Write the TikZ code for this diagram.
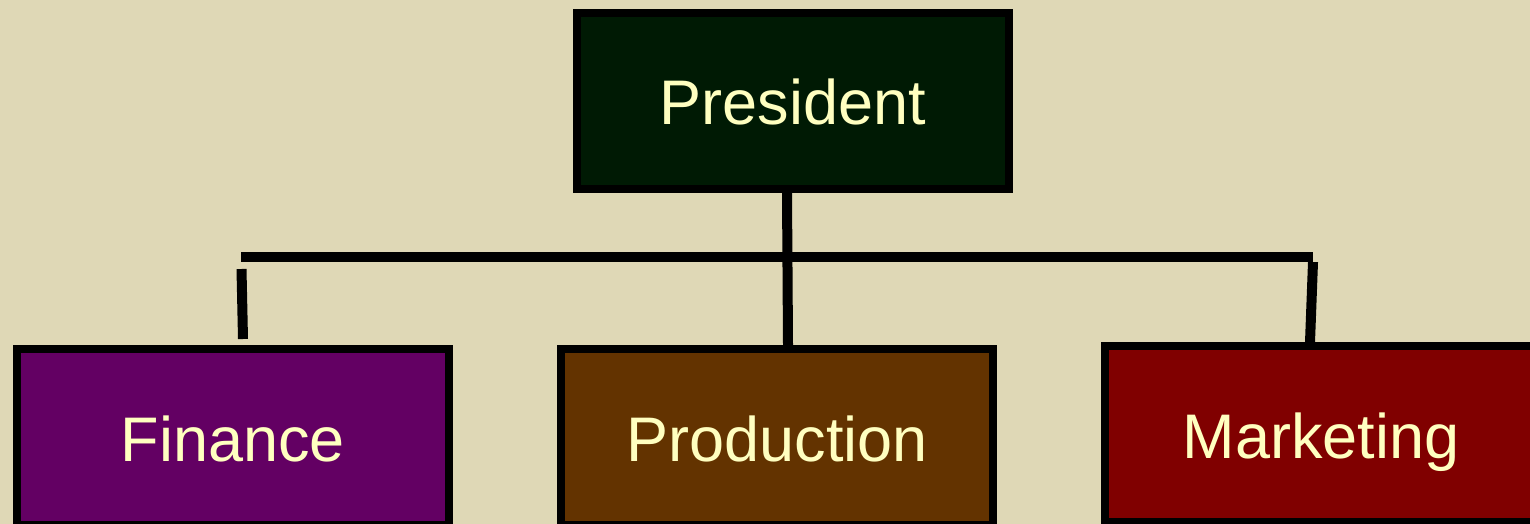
\documentclass[tikz,border=0pt]{standalone}
\usepackage{fontspec}
\setmainfont{Liberation Sans}
\usepackage{tikz}
\usetikzlibrary{positioning}

\definecolor{sfondo}{RGB}{223,216,182}
\definecolor{testo}{RGB}{255,255,192}
\definecolor{verde}{RGB}{0,26,4}
\definecolor{viola}{RGB}{99,0,99}
\definecolor{marrone}{RGB}{99,51,0}
\definecolor{rosso}{RGB}{128,0,0}

\tikzset{
    ufficio/.style={draw=black, line width=4pt, minimum width=216pt, minimum height=88pt,
        text=testo, font=\fontsize{31.5}{37}\selectfont, inner sep=0pt,
        text height=24pt, text depth=0pt},
    linea/.style={draw=black, line width=5pt}
}

\begin{document}
\begin{tikzpicture}[x=0.5pt,y=-0.5pt]
    % Disegna lo sfondo
    \fill[sfondo] (0,0) rectangle (1530,524);
    \useasboundingbox (0,0) rectangle (1530,524);
    % Disegna i riquadri
    \node[ufficio, fill=verde] (president) at (793,101) {President};
    \node[ufficio, fill=viola] (finance) at (233,437) {Finance};
    \node[ufficio, fill=marrone] (production) at (777,437) {Production};
    \node[ufficio, fill=rosso] (marketing) at (1321,434) {Marketing};
    % Disegna la barra orizzontale
    \coordinate (barra sx) at (241,256.5);
    \coordinate (barra dx) at (1313,256.5);
    \draw[linea] (barra sx) -- (barra dx);
    % Disegna le linee verticali
    \draw[linea] ([xshift=-3pt]president.south) -- ([xshift=5.5pt]production.north);
    \coordinate (fin alto) at (241.5,269);
    \coordinate (fin basso) at (243,339);
    \draw[linea] (fin alto) -- (fin basso);
    \coordinate (mkt alto) at (1313,262);
    \draw[linea] (mkt alto) -- ([xshift=-5.5pt]marketing.north);
\end{tikzpicture}
\end{document}
